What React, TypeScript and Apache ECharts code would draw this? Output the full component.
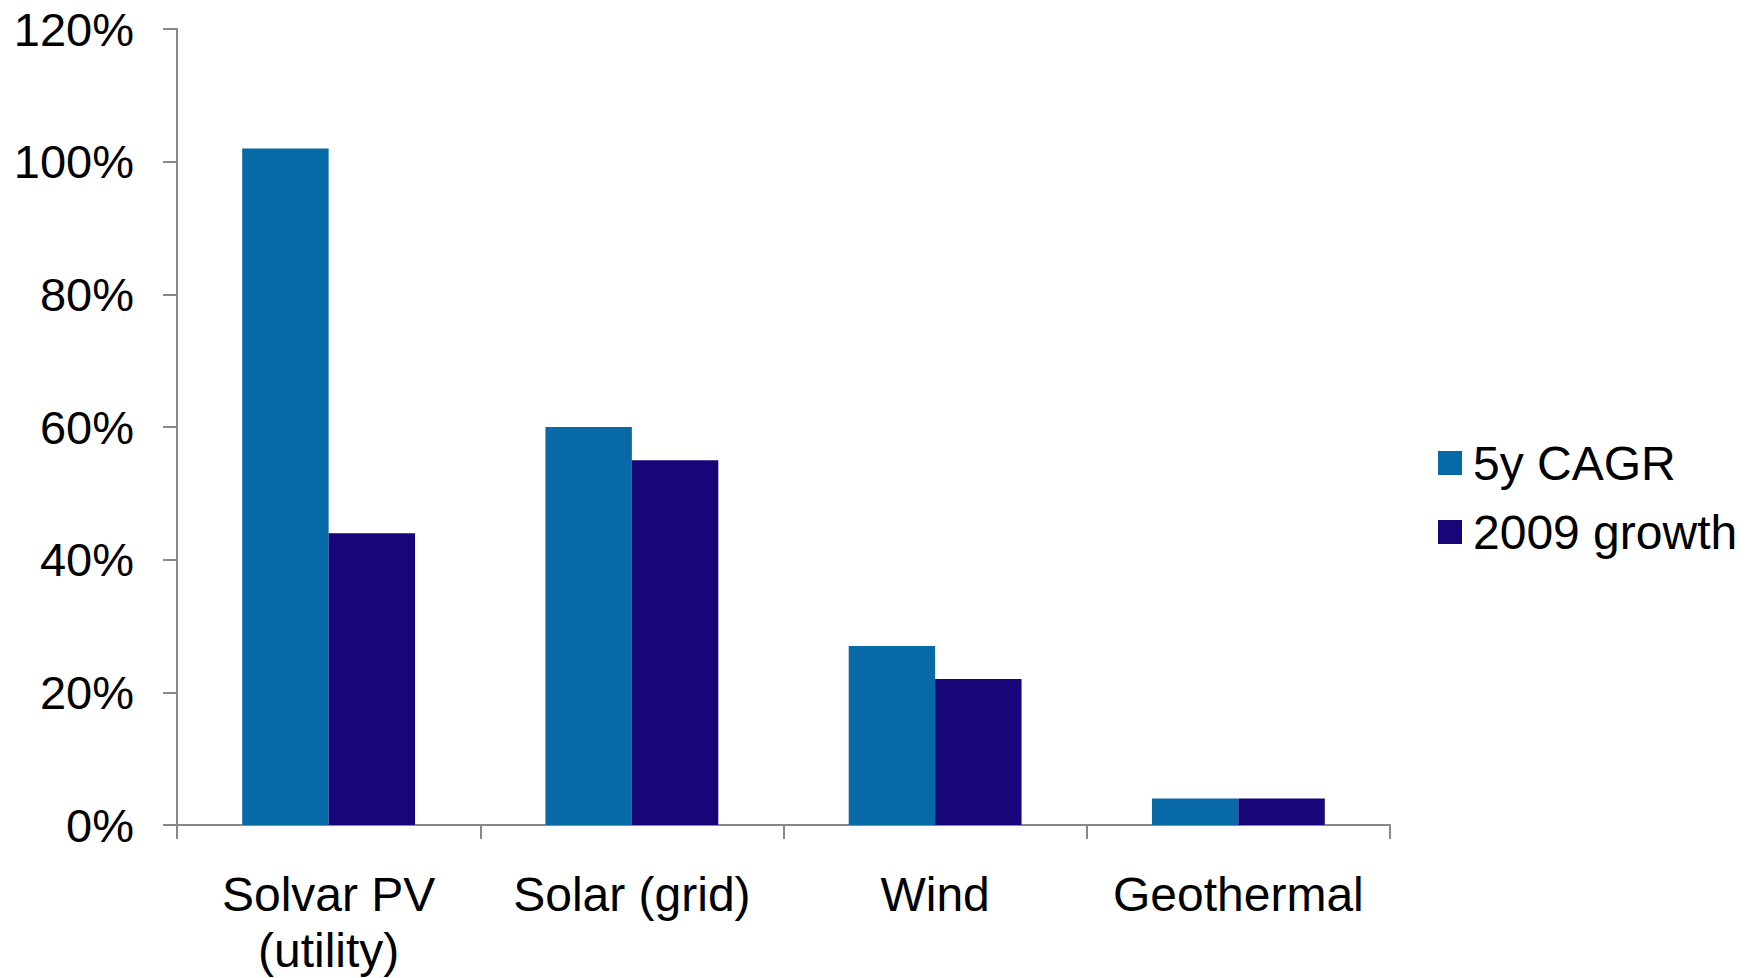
import React, { useEffect, useRef } from "react";
import * as echarts from "echarts";

const categories = ["Solvar PV\n(utility)", "Solar (grid)", "Wind", "Geothermal"];
const cagr5y = [102, 60, 27, 4];
const growth2009 = [44, 55, 22, 4];
const seriesNames = ["5y CAGR", "2009 growth"];
const colors = ["#0769A5", "#170579"];

const FONT = "'Liberation Sans', Arial, sans-serif";

export default function App() {
  const ref = useRef<HTMLDivElement>(null);
  useEffect(() => {
    document.body.style.margin = "0";
    const chart = echarts.init(ref.current!, null, { renderer: "svg" });
    const axisLine = { show: true, lineStyle: { color: "#898989", width: 2 } };
    chart.setOption({
      animation: false,
      textStyle: { fontFamily: FONT },
      grid: { left: 177, right: 362, top: 29, bottom: 153, containLabel: false },
      legend: {
        orient: "vertical",
        left: 1438,
        top: 439,
        padding: 0,
        itemWidth: 24,
        itemHeight: 24,
        itemGap: 21,
        icon: "rect",
        data: seriesNames,
        textStyle: { fontSize: 48, color: "#000", fontFamily: FONT, padding: [0, 0, 0, 6] },
      },
      xAxis: {
        type: "category",
        data: categories,
        axisLine,
        axisTick: { show: true, length: 14, inside: false, lineStyle: { color: "#898989", width: 2 } },
        axisLabel: { fontSize: 48, color: "#000", margin: 41, lineHeight: 56, fontFamily: FONT, interval: 0 },
      },
      yAxis: {
        type: "value",
        min: 0,
        max: 120,
        interval: 20,
        axisLine,
        axisTick: { show: true, length: 14, inside: false, lineStyle: { color: "#898989", width: 2 } },
        splitLine: { show: false },
        axisLabel: { fontSize: 47, color: "#000", margin: 43, formatter: "{value}%", fontFamily: FONT },
      },
      series: [
        {
          name: seriesNames[0],
          type: "bar",
          data: cagr5y,
          itemStyle: { color: colors[0] },
          barGap: "0%",
          barCategoryGap: "43%",
        },
        {
          name: seriesNames[1],
          type: "bar",
          data: growth2009,
          itemStyle: { color: colors[1] },
          barGap: "0%",
          barCategoryGap: "43%",
        },
      ],
    });
    return () => chart.dispose();
  }, []);
  return <div ref={ref} style={{ width: 1752, height: 978 }} />;
}
